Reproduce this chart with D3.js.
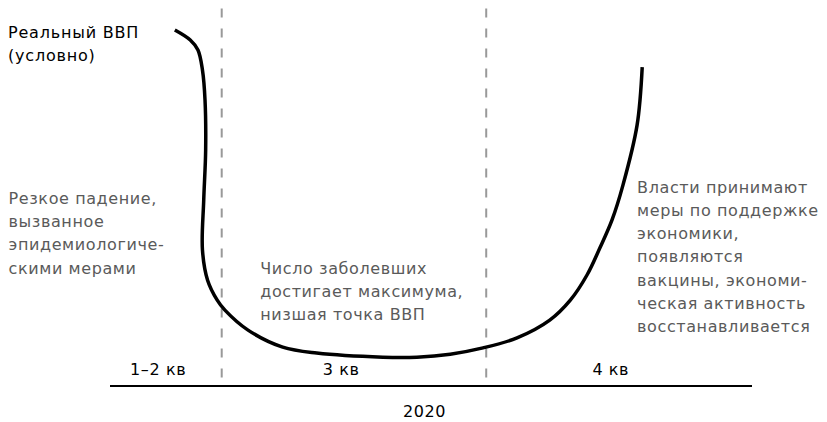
<!DOCTYPE html>
<html>
<head>
<meta charset="utf-8">
<script src="https://cdn.jsdelivr.net/npm/d3@7"></script>
<style>
  html, body { margin: 0; padding: 0; background: #fff; }
  svg { display: block; }
  text { font-family: "DejaVu Sans", sans-serif; letter-spacing: 0.6px; }
</style>
</head>
<body>
<svg id="chart" width="827" height="422"></svg>
<script>
// Conditional GDP curve (x: relative time 0–100 across 2020, y: conditional GDP 0–100)
const curveX = [10.1, 12.5, 13.7, 14.4, 14.8, 14.9, 14.6, 14.4, 15.2, 16.7, 17.9, 21.5, 26.9, 32.2, 42.5, 47.8, 53.0, 58.1, 63.4, 68.5, 71.7, 74.3, 76.3, 78.2, 79.9, 82.1, 82.9];
const curveY = [96.2, 93.5, 90.8, 85.4, 77.3, 63.8, 50.3, 36.8, 28.6, 23.2, 20.5, 15.1, 10.5, 8.9, 7.8, 7.8, 8.6, 10.3, 13.0, 17.8, 23.2, 30.0, 37.3, 44.9, 54.3, 70.5, 86.2];
// Quarter boundaries (same x units)
const dividers = [17.4, 58.6];
// Period labels and their positions
const periodLabels = ["1–2 кв", "3 кв", "4 кв"];
const periodPos = [7.5, 36.0, 78.0];
const yearLabel = "2020";
const yearPos = 49.0;
const yLabel = ["Реальный ВВП", "(условно)"];
const notes = [
  { lines: ["Резкое падение,", "вызванное", "эпидемиологиче-", "скими мерами"], x: -15.8, y: 49.2 },
  { lines: ["Число заболевших", "достигает максимума,", "низшая точка ВВП"], x: 23.4, y: 30.4 },
  { lines: ["Власти принимают", "меры по поддержке", "экономики,", "появляются", "вакцины, экономи-", "ческая активность", "восстанавливается"], x: 82.1, y: 52.2 }
];

const svg = d3.select("#chart");
const x = d3.scaleLinear().domain([0, 100]).range([110, 752]);
const y = d3.scaleLinear().domain([0, 100]).range([386, 16]);

// dashed quarter dividers
svg.selectAll("line.div").data(dividers).join("line")
  .attr("class", "div")
  .attr("x1", d => x(d)).attr("x2", d => x(d))
  .attr("y1", y(102)).attr("y2", y(0))
  .attr("stroke", "#999").attr("stroke-width", 2)
  .attr("stroke-dasharray", "9,11");

// baseline
svg.append("line")
  .attr("x1", x(0)).attr("x2", x(100))
  .attr("y1", y(0)).attr("y2", y(0))
  .attr("stroke", "#000").attr("stroke-width", 2);

// curve
const pts = curveX.map((d, i) => [d, curveY[i]]);
svg.append("path")
  .datum(pts)
  .attr("fill", "none")
  .attr("stroke", "#000")
  .attr("stroke-width", 3.5)
  .attr("d", d3.line().x(d => x(d[0])).y(d => y(d[1])).curve(d3.curveCatmullRom.alpha(0.5)));

// period labels
svg.selectAll("text.per").data(periodLabels).join("text")
  .attr("class", "per")
  .attr("x", (d, i) => x(periodPos[i]))
  .attr("y", 375)
  .attr("text-anchor", "middle")
  .attr("font-size", 16)
  .attr("fill", "#000")
  .text(d => d);

svg.append("text")
  .attr("x", x(yearPos)).attr("y", 417)
  .attr("text-anchor", "middle")
  .attr("font-size", 16)
  .attr("fill", "#000")
  .text(yearLabel);

// y label
svg.selectAll("text.yl").data(yLabel).join("text")
  .attr("class", "yl")
  .attr("x", 8)
  .attr("y", (d, i) => 38 + i * 23)
  .attr("font-size", 16)
  .style("letter-spacing", "0.8px")
  .attr("fill", "#000")
  .text(d => d);

// notes
notes.forEach(n => {
  const t = svg.append("text")
    .attr("font-size", 16)
    .attr("fill", "#5a5a5a");
  n.lines.forEach((l, i) => {
    t.append("tspan")
      .attr("x", x(n.x))
      .attr("y", y(n.y) + i * 23.2)
      .text(l);
  });
});
</script>
</body>
</html>
